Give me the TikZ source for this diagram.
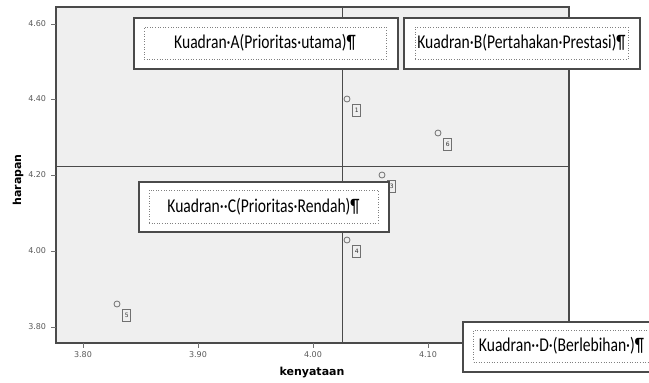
\documentclass[tikz,border=0pt]{standalone}
\usepackage{fontspec}
\setmainfont{Carlito}
\setsansfont{DejaVu Sans}
\newfontfamily\boxfont[FakeStretch=0.8]{Carlito}
\usetikzlibrary{positioning}
\definecolor{plotbg}{HTML}{EFEFEF}
\definecolor{framegray}{HTML}{4A4A4A}
\definecolor{markgray}{HTML}{707070}

\begin{document}
\begin{tikzpicture}[x=1pt, y=-1pt, line width=1.2pt,
    data point/.style={draw=markgray, circle, inner sep=0pt, minimum size=6pt, line width=0.8pt},
    point label/.style={draw=markgray, font=\sffamily\fontsize{6}{6}\selectfont, text=black!80, inner sep=0pt, minimum width=8pt, minimum height=12pt, line width=0.8pt},
    tick label/.style={font=\sffamily\fontsize{8}{8}\selectfont, text=black!65},
    axis title/.style={font=\sffamily\bfseries\fontsize{11}{11}\selectfont},
    quad box/.style={draw=framegray, fill=white, line width=1.4pt, minimum height=51pt},
    quad text/.style={draw=gray, dotted, line width=0.6pt, font=\boxfont\fontsize{19.5}{22}\selectfont, minimum height=32pt, inner sep=0pt}]
  \useasboundingbox (0,0) rectangle (649,383);
  % plot area
  \coordinate (nw) at (56,7);
  \coordinate (se) at (569,343);
  \draw[framegray, fill=plotbg] (nw) rectangle (se);
  % quadrant lines
  \coordinate (vtop) at (342,7);
  \coordinate (vbot) at (342,343);
  \coordinate (hleft) at (56,166);
  \coordinate (hright) at (569,166);
  \draw[framegray, line width=1pt] (vtop) -- (vbot);
  \draw[framegray, line width=1pt] (hleft) -- (hright);
  % y axis
  \draw[markgray, line width=0.8pt] (51,24) -- (56,24);
  \draw[markgray, line width=0.8pt] (51,99) -- (56,99);
  \draw[markgray, line width=0.8pt] (51,175) -- (56,175);
  \draw[markgray, line width=0.8pt] (51,251) -- (56,251);
  \draw[markgray, line width=0.8pt] (51,327) -- (56,327);
  \node[tick label, anchor=east] (y460) at (50,24) {4.60};
  \node[tick label, anchor=east] (y440) at (50,99) {4.40};
  \node[tick label, anchor=east] (y420) at (50,175) {4.20};
  \node[tick label, anchor=east] (y400) at (50,251) {4.00};
  \node[tick label, anchor=east] (y380) at (50,327) {3.80};
  % x axis
  \draw[markgray, line width=0.8pt] (83,343) -- (83,348);
  \draw[markgray, line width=0.8pt] (198,343) -- (198,348);
  \draw[markgray, line width=0.8pt] (313,343) -- (313,348);
  \draw[markgray, line width=0.8pt] (428,343) -- (428,348);
  \node[tick label] (x380) at (83,355) {3.80};
  \node[tick label] (x390) at (198,355) {3.90};
  \node[tick label] (x400) at (313,355) {4.00};
  \node[tick label] (x410) at (428,355) {4.10};
  \node[axis title] (xtitle) at (312,373) {kenyataan};
  \node[axis title, rotate=90] (ytitle) at (18,180) {harapan};
  % data points
  \node[data point] (1) at (347,99) {};
  \node[data point] (6) at (438,133) {};
  \node[data point] (3) at (382,175) {};
  \node[data point] (4) at (347,240) {};
  \node[data point] (5) at (117,304) {};
  \node[point label, below right=3pt and 3pt of 1] (l1) {1};
  \node[point label, below right=3pt and 3pt of 6] (l6) {6};
  \node[point label, below right=3pt and 3pt of 3] (l3) {3};
  \node[point label, below right=3pt and 3pt of 4] (l4) {4};
  \node[point label, below right=3pt and 3pt of 5] (l5) {5};
  % quadrant boxes
  \node[quad box, minimum width=264pt] (boxA) at (266,43.5) {};
  \node[quad text, minimum width=242pt] (textA) at (265,43) {Kuadran·A(Prioritas·utama)¶};
  \node[quad box, minimum width=236pt] (boxB) at (522,43.5) {};
  \node[quad text, minimum width=213pt] (textB) at (521.5,43) {Kuadran·B(Pertahakan·Prestasi)¶};
  \node[quad box, minimum width=250pt, minimum height=50pt] (boxC) at (264,207) {};
  \node[quad text, minimum width=229pt, minimum height=33pt] (textC) at (263.5,206.5) {Kuadran··C(Prioritas·Rendah)¶};
  \node[quad box, minimum width=196pt, minimum height=50pt] (boxD) at (561,347) {};
  \node[quad text, minimum width=176pt, minimum height=32pt] (textD) at (561.5,346) {Kuadran··D·(Berlebihan·)¶};
\end{tikzpicture}
\end{document}
